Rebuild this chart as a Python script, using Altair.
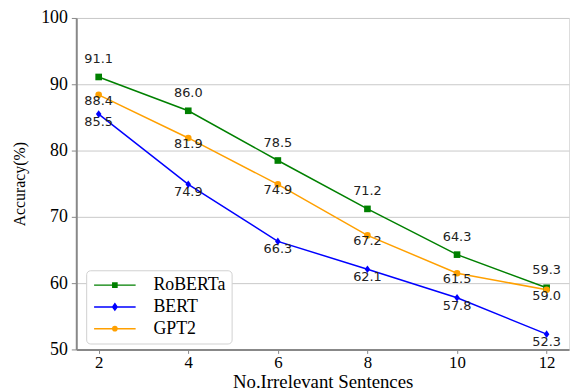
import altair as alt
import pandas as pd

# ---- data ----
x_vals = [2, 4, 6, 8, 10, 12]
roberta = [91.1, 86.0, 78.5, 71.2, 64.3, 59.3]
bert = [85.5, 74.9, 66.3, 62.1, 57.8, 52.3]
gpt2 = [88.4, 81.9, 74.9, 67.2, 61.5, 59.0]
models = ["RoBERTa", "BERT", "GPT2"]
y_ticks = [50, 60, 70, 80, 90, 100]

colors = ["#008000", "#0000ff", "#ffa000"]
point_shapes = {"RoBERTa": "square", "BERT": "M0,-1L0.72,0L0,1L-0.72,0Z", "GPT2": "circle"}
point_sizes = {"RoBERTa": 45, "BERT": 60, "GPT2": 45}
label_dy = {"RoBERTa": -18, "BERT": 8, "GPT2": 6}

# legend symbols: line segment with marker in the middle
legend_paths = [
    "M-1,0H5M1.7,-0.3H2.3V0.3H1.7Z",
    "M-1,0H5M2,-0.45L2.32,0L2,0.45L1.68,0Z",
    "M-1,0H5M2.3,0A0.3,0.3,0,1,1,1.7,0A0.3,0.3,0,1,1,2.3,0Z",
]

rows = []
for m, vals in zip(models, [roberta, bert, gpt2]):
    for xv, yv in zip(x_vals, vals):
        rows.append({"n": xv, "acc": yv, "model": m, "label": f"{yv:.1f}"})
df = pd.DataFrame(rows)

SERIF = "Liberation Serif"


def make_legend():
    return alt.Legend(
        title=None,
        orient="none",
        legendX=10,
        legendY=255,
        symbolSize=196,
        symbolStrokeWidth=1.5,
        symbolOpacity=1,
        labelFont=SERIF,
        labelFontSize=18,
        labelColor="black",
        labelOffset=44,
        rowPadding=4,
        padding=6,
        fillColor="white",
        strokeColor="#d0d0d0",
        cornerRadius=4,
    )


color_scale = alt.Scale(domain=models, range=colors)

x_enc = alt.X(
    "n:Q",
    scale=alt.Scale(domain=[1.5, 12.5], nice=False, zero=False),
    axis=alt.Axis(
        values=x_vals,
        title="No.Irrelevant Sentences",
        grid=False,
        labelFont=SERIF,
        labelFontSize=17,
        labelColor="black",
        labelPadding=1,
        tickSize=4,
        tickColor="#888888",
        domainColor="#888888",
        domainWidth=2,
        titleFont=SERIF,
        titleFontSize=19,
        titleFontWeight="normal",
        titleColor="black",
        titleBaseline="alphabetic",
        titleY=38,
    ),
)
y_enc = alt.Y(
    "acc:Q",
    scale=alt.Scale(domain=[50, 100], nice=False, zero=False),
    axis=alt.Axis(
        values=y_ticks,
        title="Accuracy(%)",
        grid=True,
        gridColor="#c8c8c8",
        gridWidth=1,
        labelFont=SERIF,
        labelFontSize=18,
        labelColor="black",
        labelPadding=4,
        tickSize=5,
        tickColor="#888888",
        domainColor="#888888",
        domainWidth=2,
        titleFont=SERIF,
        titleFontSize=16,
        titleFontWeight="normal",
        titleColor="black",
        titleBaseline="alphabetic",
        titleX=-52,
    ),
)

base = alt.Chart(df)

lines = base.mark_line(strokeWidth=1.5).encode(
    x=x_enc, y=y_enc,
    stroke=alt.Stroke("model:N", scale=color_scale, legend=make_legend()),
)

point_layers = []
text_layers = []
for m in models:
    sub = base.transform_filter(alt.datum.model == m)
    point_layers.append(
        sub.mark_point(filled=True, size=point_sizes[m], opacity=1, shape=point_shapes[m]).encode(
            x="n:Q", y="acc:Q",
            fill=alt.Fill("model:N", scale=color_scale, legend=make_legend()),
        )
    )
    text_layers.append(
        sub.mark_text(dy=label_dy[m], font="DejaVu Sans", fontSize=13, color="#222222", baseline="middle")
        .encode(x="n:Q", y="acc:Q", text="label:N")
    )

# invisible layer that only provides the legend symbols (line + marker)
legend_layer = base.mark_point(opacity=0, filled=True, size=196, strokeWidth=1.5).encode(
    x="n:Q", y="acc:Q",
    fill=alt.Fill("model:N", scale=color_scale, legend=make_legend()),
    stroke=alt.Stroke("model:N", scale=color_scale, legend=make_legend()),
    shape=alt.Shape("model:N", scale=alt.Scale(domain=models, range=legend_paths), legend=make_legend()),
)

chart = (
    alt.layer(lines, *point_layers, *text_layers, legend_layer)
    .properties(
        width=498,
        height=335,
        autosize=alt.AutoSizeParams(type="none"),
        padding={"left": 69, "top": 8, "right": 2, "bottom": 46},
    )
    .configure_view(stroke="#888888", strokeWidth=2)
    .configure_legend(labelFont=SERIF, labelFontSize=18, labelColor="black")
    .configure(background="white")
)

chart.save("out.html", embed_options={"renderer": "svg", "actions": False})
